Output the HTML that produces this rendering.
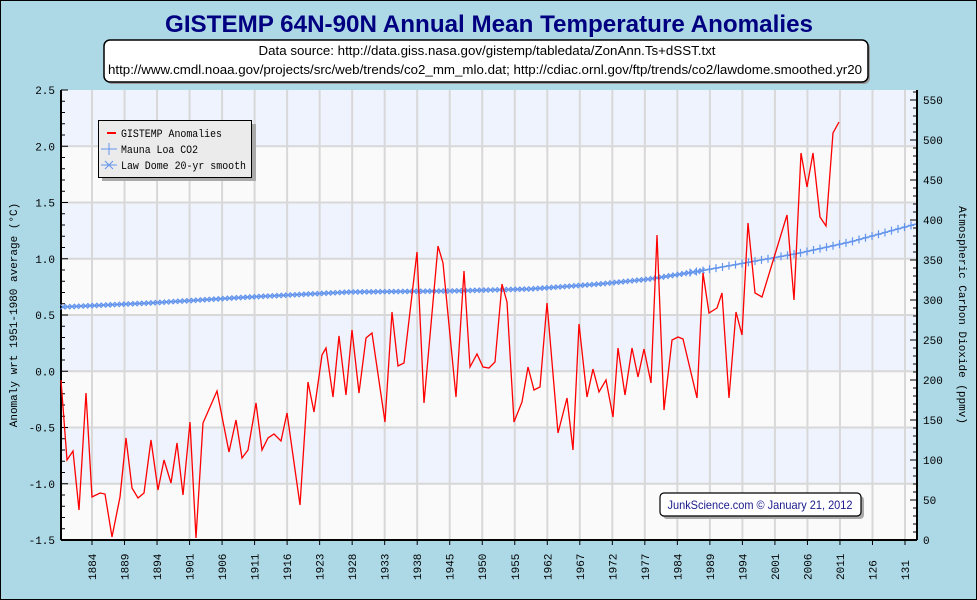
<!DOCTYPE html>
<html><head><meta charset="utf-8"><style>
html,body{margin:0;padding:0;background:#add8e6;}
svg{display:block;}
.m{font-family:"Liberation Mono","DejaVu Sans Mono",monospace;font-size:11px;fill:#000;}
</style></head><body>
<svg id="s" width="977" height="600" xmlns="http://www.w3.org/2000/svg">
<rect x="0.5" y="0.5" width="976" height="599" fill="#add8e6" stroke="#000"/>
<text x="489" y="32" text-anchor="middle" font-family="Liberation Sans Narrow, Liberation Sans, sans-serif" font-weight="bold" font-size="24" fill="#000080" textLength="648" lengthAdjust="spacingAndGlyphs">GISTEMP 64N-90N Annual Mean Temperature Anomalies</text>
<rect x="106" y="42" width="764" height="42" rx="6" fill="#999"/>
<rect x="104" y="40" width="764" height="42" rx="6" fill="#fff" stroke="#000" stroke-width="1.5"/>
<text x="487" y="55" text-anchor="middle" font-family="Liberation Sans Narrow, Liberation Sans, sans-serif" font-size="13" textLength="457" lengthAdjust="spacingAndGlyphs">Data source: http://data.giss.nasa.gov/gistemp/tabledata/ZonAnn.Ts+dSST.txt</text>
<text x="485" y="74" text-anchor="middle" font-family="Liberation Sans Narrow, Liberation Sans, sans-serif" font-size="13" textLength="754" lengthAdjust="spacingAndGlyphs">http://www.cmdl.noaa.gov/projects/src/web/trends/co2_mm_mlo.dat; http://cdiac.ornl.gov/ftp/trends/co2/lawdome.smoothed.yr20</text>
<g id="plot"></g>
</svg>
<script>
var NS="http://www.w3.org/2000/svg",g=document.getElementById("plot");
function el(t,a,txt){var e=document.createElementNS(NS,t);for(var k in a)e.setAttribute(k,a[k]);if(txt!=null)e.textContent=txt;g.appendChild(e);return e;}
var L=61,R=917,T=90,B=540;
for(var i=0;i<8;i++){el("rect",{x:L,y:T+i*56.25,width:R-L,height:56.25,fill:i%2==0?"#eef3fe":"#fafafa"});}
for(var i=1;i<8;i++){el("line",{x1:L,x2:R,y1:T+i*56.25,y2:T+i*56.25,stroke:"#d8d8d8","stroke-width":2});}
var labs=["1884","1889","1894","1901","1906","1911","1916","1923","1928","1933","1938","1945","1950","1955","1962","1967","1972","1977","1984","1989","1994","2001","2006","2011","126","131"];
for(var i=0;i<26;i++){var x=92+i*32.52;
el("line",{x1:x,x2:x,y1:T,y2:B,stroke:"#d8d8d8","stroke-width":2});
el("line",{x1:x,x2:x,y1:B,y2:B+5,stroke:"#000"});
el("text",{class:"m",transform:"translate("+(x+4)+","+(B+40)+") rotate(-90)"},labs[i]);}
el("line",{x1:L,x2:L,y1:T,y2:B,stroke:"#000","stroke-width":2});
el("line",{x1:L,x2:R,y1:B,y2:B,stroke:"#000","stroke-width":2});
el("line",{x1:R,x2:R,y1:T,y2:B,stroke:"#000","stroke-width":2});
for(var k=0;k<=40;k++){var y=T+k*11.25;el("line",{x1:L,x2:L+(k%5==0?7:4),y1:y,y2:y,stroke:"#000"});}
for(var k=0;k<=8;k++){var v=2.5-k*0.5;el("text",{class:"m",x:L-6,y:T+k*56.25+4,"text-anchor":"end"},v.toFixed(1));}
for(var k=0;k<=56;k++){var y=B-k*8;if(y<T)break;el("line",{x1:R,x2:R-(k%5==0?7:4),y1:y,y2:y,stroke:"#000"});}
for(var k=0;k<=11;k++){el("text",{class:"m",x:R+6,y:B-k*40+4},String(k*50));}
el("text",{class:"m","font-size":"10",transform:"translate(17,315) rotate(-90)","text-anchor":"middle"},"Anomaly wrt 1951-1980 average (°C)");
el("text",{class:"m","font-size":"10",transform:"translate(959,315) rotate(90)","text-anchor":"middle"},"Atmospheric Carbon Dioxide (ppmv)");
var co=[[62,307],[150,303],[250,297],[350,292],[450,291],[530,289],[600,284],[650,279],[700,271],[750,262],[800,253],[850,242],[916,224]];
function interp(x){for(var i=1;i<co.length;i++){if(x<=co[i][0]){var a=co[i-1],b=co[i],t=(x-a[0])/(b[0]-a[0]);return a[1]+t*(b[1]-a[1]);}}return co[co.length-1][1];}
el("polyline",{points:co.map(p=>p.join(",")).join(" "),fill:"none",stroke:"#6495ed","stroke-width":1.5});
var d="";
for(var x=63;x<705;x+=4.5){var y=interp(x);d+="M"+(x-2.5)+","+(y-2.5)+"l5,5M"+(x+2.5)+","+(y-2.5)+"l-5,5";}
for(var x=690;x<916;x+=6.5){var y=interp(x);d+="M"+(x-3)+","+y+"h6M"+x+","+(y-4)+"v8";}
el("path",{d:d,stroke:"#6495ed","stroke-width":1.2,fill:"none"});
var tp=[[61,380],[63,407],[67,460],[73,451],[79,510],[86,393],[92,497],[100,493],[105,494],[112,537],[120,497],[126,438],[132,488],[138,498],[144,493],[151,440],[158,490],[164,460],[171,483],[177,443],[183,495],[190,422],[196,538],[203,423],[217,391],[229,452],[236,420],[242,458],[248,450],[256,403],[262,450],[268,438],[274,434],[281,441],[287,413],[300,505],[308,382],[314,412],[322,355],[326,348],[333,397],[339,336],[346,395],[352,330],[359,393],[366,338],[372,333],[385,422],[392,312],[398,366],[404,363],[417,252],[424,403],[438,246],[443,263],[456,397],[464,271],[470,367],[477,354],[483,367],[489,368],[495,362],[502,284],[507,302],[514,422],[522,402],[528,367],[534,390],[540,387],[547,303],[558,433],[567,398],[573,450],[579,324],[587,397],[593,369],[599,392],[606,380],[613,417],[618,348],[625,395],[632,348],[638,377],[644,349],[651,383],[657,235],[664,410],[672,340],[678,337],[683,339],[697,398],[703,273],[709,313],[717,308],[722,293],[729,398],[736,312],[742,335],[748,223],[755,293],[762,297],[787,215],[794,300],[801,153],[807,187],[813,153],[820,217],[826,226],[833,133],[839,122]];
el("polyline",{points:tp.map(p=>p.join(",")).join(" "),fill:"none",stroke:"#ff0000","stroke-width":1.3});
el("rect",{x:102,y:124,width:154,height:57,fill:"#aaa"});
el("rect",{x:98.5,y:120.5,width:153,height:57,fill:"#ebebeb",stroke:"#000","stroke-width":1});
el("line",{x1:107,x2:116,y1:133,y2:133,stroke:"#f00","stroke-width":2});
el("text",{class:"m","font-size":"10",x:121,y:137,textLength:"101",lengthAdjust:"spacingAndGlyphs"},"GISTEMP Anomalies");
el("path",{d:"M101,149h16M109,143v12",stroke:"#6495ed","stroke-width":1});
el("text",{class:"m","font-size":"10",x:121,y:153,textLength:"77",lengthAdjust:"spacingAndGlyphs"},"Mauna Loa CO2");
el("path",{d:"M101,165h16M105,161l8,8M113,161l-8,8",stroke:"#6495ed","stroke-width":1});
el("text",{class:"m","font-size":"10",x:121,y:169,textLength:"125",lengthAdjust:"spacingAndGlyphs"},"Law Dome 20-yr smooth");
el("rect",{x:663,y:496,width:201,height:23,rx:4,fill:"#aaa"});
el("rect",{x:660,y:493,width:201,height:23,rx:4,fill:"#fff",stroke:"#000","stroke-width":1.2});
el("text",{x:760,y:509,"text-anchor":"middle","font-family":"Liberation Sans, sans-serif","font-size":"12",fill:"#1a1a8c",textLength:"185",lengthAdjust:"spacingAndGlyphs"},"JunkScience.com © January 21, 2012");
</script>
</body></html>
